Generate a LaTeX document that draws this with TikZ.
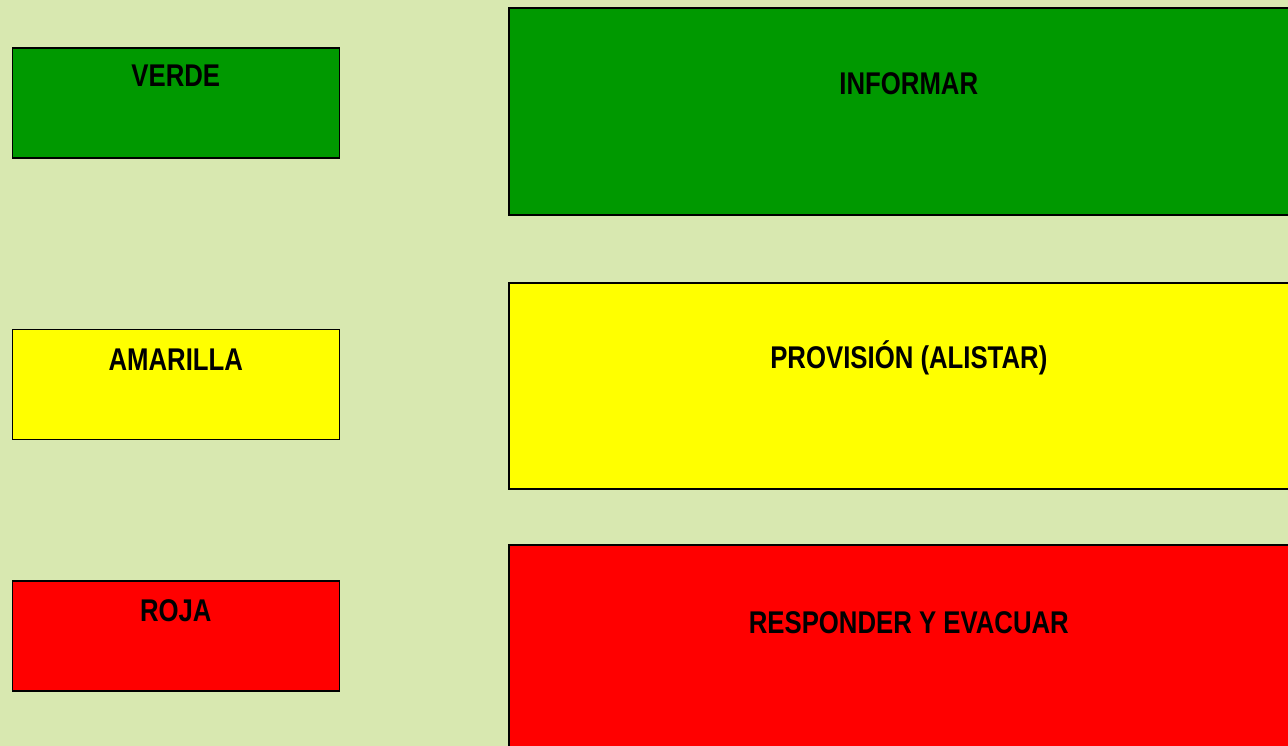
\documentclass[tikz,border=0pt]{standalone}
\usepackage{fontspec}
\setmainfont{Liberation Sans}[FakeStretch=0.82]
\usepackage{tikz}
\usetikzlibrary{positioning}

\definecolor{fondo}{RGB}{216,232,176}
\definecolor{verde}{RGB}{0,153,0}
\definecolor{amarilla}{RGB}{255,255,0}
\definecolor{roja}{RGB}{255,0,0}

\begin{document}
\begin{tikzpicture}[x=1pt,y=-1pt,
  alerta/.style={draw=black,line width=1.6pt,rectangle,anchor=north west,inner sep=0pt},
  nivel/.style={alerta,minimum width=327pt,minimum height=110pt},
  accion/.style={alerta,minimum width=800pt,minimum height=207pt},
  rotulo/.style={anchor=base,inner sep=0pt,font=\bfseries\fontsize{31.4}{36}\selectfont}]
\useasboundingbox (0,0) rectangle (1288,746);
\fill[fondo] (0,0) rectangle (1288,746);
% the levels
\node[nivel,fill=verde] (verde) at (11.5,47) {};
\node[nivel,fill=amarilla] (amarilla) at (11.5,328.5) {};
\node[nivel,fill=roja] (roja) at (11.5,580) {};
% the actions
\node[accion,fill=verde] (informar) at (508,7) {};
\node[accion,fill=amarilla,minimum height=206pt] (provision) at (508,282) {};
\node[accion,fill=roja,minimum height=220pt] (responder) at (508,544) {};
% the labels
\node[rotulo] (tverde) at ([yshift=-40pt]verde.north) {VERDE};
\node[rotulo] (tamarilla) at ([yshift=-42pt]amarilla.north) {AMARILLA};
\node[rotulo] (troja) at ([yshift=-41pt]roja.north) {ROJA};
\node[rotulo] (tinformar) at ([yshift=-88pt]informar.north) {INFORMAR};
\node[rotulo] (tprovision) at ([yshift=-86pt]provision.north) {PROVISIÓN (ALISTAR)};
\node[rotulo] (tresponder) at ([yshift=-89pt]responder.north) {RESPONDER Y EVACUAR};
\end{tikzpicture}
\end{document}
